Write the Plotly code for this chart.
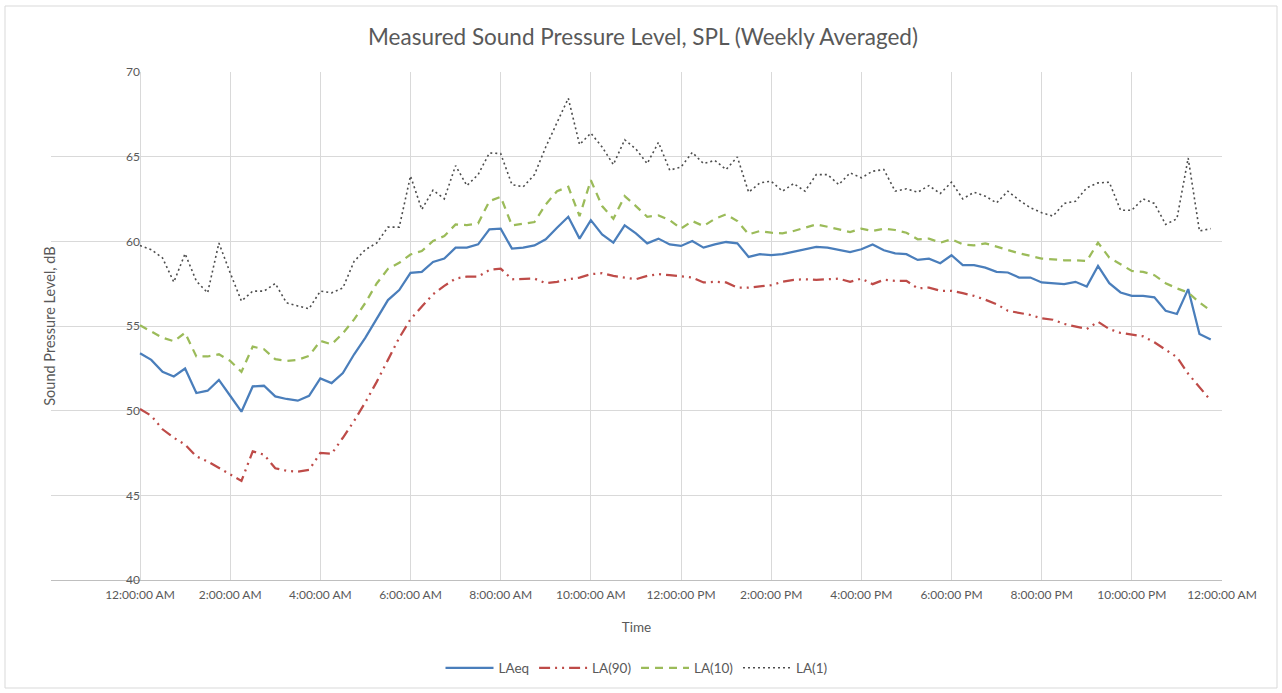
import plotly.graph_objects as go

# 15-minute time steps (hours after midnight), 96 samples
step_minutes = 15
n_samples = 96
hours = [i * step_minutes / 60 for i in range(n_samples)]

tick_hours = [0, 2, 4, 6, 8, 10, 12, 14, 16, 18, 20, 22, 24]
tick_labels = ["12:00:00 AM", "2:00:00 AM", "4:00:00 AM", "6:00:00 AM", "8:00:00 AM",
               "10:00:00 AM", "12:00:00 PM", "2:00:00 PM", "4:00:00 PM", "6:00:00 PM",
               "8:00:00 PM", "10:00:00 PM", "12:00:00 AM"]

laeq = [53.39, 53.0, 52.29, 52.02, 52.49, 51.04, 51.18, 51.82, 50.88, 49.94, 51.43, 51.47,
        50.84, 50.69, 50.59, 50.88, 51.90, 51.63, 52.22, 53.33, 54.31, 55.43, 56.53, 57.12,
        58.14, 58.2, 58.78, 58.98, 59.63, 59.63, 59.82, 60.71, 60.75, 59.57, 59.63, 59.76,
        60.12, 60.80, 61.45, 60.16, 61.25, 60.41, 59.92, 60.94, 60.47, 59.88, 60.16, 59.82,
        59.73, 60.02, 59.63, 59.82, 59.96, 59.88, 59.08, 59.24, 59.18, 59.24, 59.37, 59.53,
        59.67, 59.63, 59.49, 59.37, 59.53, 59.82, 59.47, 59.29, 59.24, 58.9, 58.98, 58.71,
        59.18, 58.59, 58.59, 58.45, 58.2, 58.16, 57.86, 57.86, 57.57, 57.53, 57.47, 57.61,
        57.33, 58.55, 57.53, 56.98, 56.78, 56.78, 56.69, 55.9, 55.71, 57.18, 54.53, 54.2]

la90 = [50.1, 49.7, 48.9, 48.4, 48.0, 47.3, 47.0, 46.6, 46.2, 45.85, 47.6, 47.4,
        46.6, 46.45, 46.4, 46.5, 47.5, 47.45, 48.4, 49.4, 50.5, 51.7, 53.0, 54.3,
        55.4, 56.16, 56.88, 57.37, 57.8, 57.92, 57.92, 58.31, 58.39, 57.76, 57.8, 57.8,
        57.53, 57.61, 57.76, 57.86, 58.06, 58.12, 57.96, 57.86, 57.76, 57.96, 58.06, 58.0,
        57.92, 57.86, 57.57, 57.61, 57.57, 57.27, 57.27, 57.33, 57.41, 57.61, 57.73, 57.76,
        57.73, 57.76, 57.8, 57.61, 57.8, 57.47, 57.73, 57.67, 57.67, 57.22, 57.27, 57.08,
        57.08, 56.94, 56.78, 56.55, 56.29, 55.9, 55.76, 55.65, 55.45, 55.37, 55.12, 54.98,
        54.82, 55.25, 54.82, 54.59, 54.47, 54.39, 54.04, 53.61, 53.16, 52.18, 51.4, 50.6]

la10 = [55.04, 54.7, 54.31, 54.1, 54.6, 53.2, 53.2, 53.33, 52.94, 52.29, 53.78, 53.63,
        53.04, 52.94, 53.0, 53.24, 54.12, 53.92, 54.57, 55.39, 56.37, 57.51, 58.37, 58.73,
        59.22, 59.43, 60.02, 60.31, 61.0, 60.96, 61.06, 62.37, 62.63, 60.94, 61.04, 61.14,
        62.18, 62.96, 63.22, 61.49, 63.61, 62.08, 61.33, 62.67, 62.08, 61.45, 61.53, 61.25,
        60.75, 61.2, 60.9, 61.33, 61.59, 61.2, 60.41, 60.61, 60.51, 60.47, 60.61, 60.8,
        61.0, 60.86, 60.71, 60.55, 60.75, 60.61, 60.75, 60.67, 60.51, 60.12, 60.16, 59.92,
        60.12, 59.82, 59.76, 59.88, 59.69, 59.49, 59.29, 59.14, 58.98, 58.94, 58.88, 58.88,
        58.84, 59.92, 59.04, 58.65, 58.25, 58.2, 58.0, 57.53, 57.22, 56.98, 56.39, 55.9]

la1 = [59.75, 59.51, 59.02, 57.59, 59.27, 57.65, 56.96, 59.9, 58.14, 56.47, 57.06, 57.06,
       57.51, 56.37, 56.18, 56.02, 57.06, 56.96, 57.25, 58.82, 59.51, 59.9, 60.84, 60.84,
       63.86, 61.88, 63.02, 62.51, 64.47, 63.29, 63.94, 65.22, 65.18, 63.35, 63.22, 63.94,
       65.57, 66.98, 68.45, 65.71, 66.39, 65.57, 64.53, 66.0, 65.45, 64.59, 65.84, 64.2,
       64.39, 65.25, 64.59, 64.78, 64.24, 64.98, 62.9, 63.45, 63.55, 62.96, 63.41, 62.96,
       63.94, 63.94, 63.35, 64.04, 63.75, 64.14, 64.24, 62.96, 63.1, 62.9, 63.29, 62.82,
       63.49, 62.51, 62.9, 62.67, 62.27, 62.96, 62.43, 61.98, 61.69, 61.49, 62.24, 62.37,
       63.16, 63.45, 63.49, 61.84, 61.84, 62.51, 62.24, 61.0, 61.33, 64.92, 60.61, 60.75]

FONT = "Lato, 'Open Sans', sans-serif"
TXT = "#595959"
GRID = "#d9d9d9"

fig = go.Figure()
fig.add_trace(go.Scatter(x=hours, y=laeq, mode="lines", name="LAeq",
                         line=dict(color="#4a7ebb", width=2.25)))
fig.add_trace(go.Scatter(x=hours, y=la90, mode="lines", name="LA(90)",
                         line=dict(color="#be4b48", width=2.25, dash="11px,5px,2px,5px,2px,5px")))
fig.add_trace(go.Scatter(x=hours, y=la10, mode="lines", name="LA(10)",
                         line=dict(color="#9bbb59", width=2.25, dash="8px,6px")))
fig.add_trace(go.Scatter(x=hours, y=la1, mode="lines", name="LA(1)",
                         line=dict(color="#4d4d4d", width=1.6, dash="2px,3px")))

# plot area in pixels: x 51..1222, y 72..580
L, R, T, B = 51, 1222, 72, 580
W, H = 1282, 693
px_per_hour = (R - 140) / 24.0
x_min = -(140 - L) / px_per_hour

def pxx(p):
    return (p - L) / (R - L)

def pxy(p):
    return (B - p) / (B - T)

fig.update_layout(
    width=W, height=H,
    margin=dict(l=L, r=W - R, t=T, b=H - B, autoexpand=False),
    paper_bgcolor="white", plot_bgcolor="white",
    font=dict(family=FONT, color=TXT, size=12),
    title=dict(text="Measured Sound Pressure Level, SPL (Weekly Averaged)",
               x=643 / W, xref="container", xanchor="center",
               y=1 - 37 / H, yref="container", yanchor="middle",
               font=dict(size=22.5, color=TXT, family=FONT)),
    xaxis=dict(range=[x_min, 24], tickmode="array", tickvals=tick_hours, ticktext=tick_labels,
               showgrid=True, gridcolor=GRID, gridwidth=1, zeroline=False,
               showline=True, linecolor="#bfbfbf", linewidth=1, ticks="",
               ticklabelstandoff=4,
               tickfont=dict(size=12, color=TXT, family=FONT),
               title=dict(text="Time", font=dict(size=13.5, color=TXT, family=FONT), standoff=21),
               automargin=False),
    yaxis=dict(range=[40, 70], tickmode="array", tickvals=[40, 45, 50, 55, 60, 65, 70],
               showgrid=True, gridcolor=GRID, gridwidth=1, zeroline=False,
               showline=False, ticks="", anchor="free", position=pxx(140),
               tickfont=dict(size=12, color=TXT, family=FONT),
               title=dict(text="Sound Pressure Level, dB", font=dict(size=14.5, color=TXT, family=FONT),
                          standoff=66),
               automargin=False),
    legend=dict(orientation="h", x=0.5, xanchor="center", y=pxy(668), yanchor="middle",
                font=dict(size=13.5, color=TXT, family=FONT), bgcolor="rgba(0,0,0,0)",
                itemwidth=48, tracegroupgap=0),
    shapes=[dict(type="rect", xref="paper", yref="paper",
                 x0=pxx(5), x1=pxx(1277), y0=pxy(688), y1=pxy(6),
                 line=dict(color=GRID, width=1), fillcolor="rgba(0,0,0,0)", layer="below")],
)

fig.write_html("out.html", config={"displayModeBar": False},
               post_script="document.body.style.margin='0';document.body.style.overflow='hidden';")
